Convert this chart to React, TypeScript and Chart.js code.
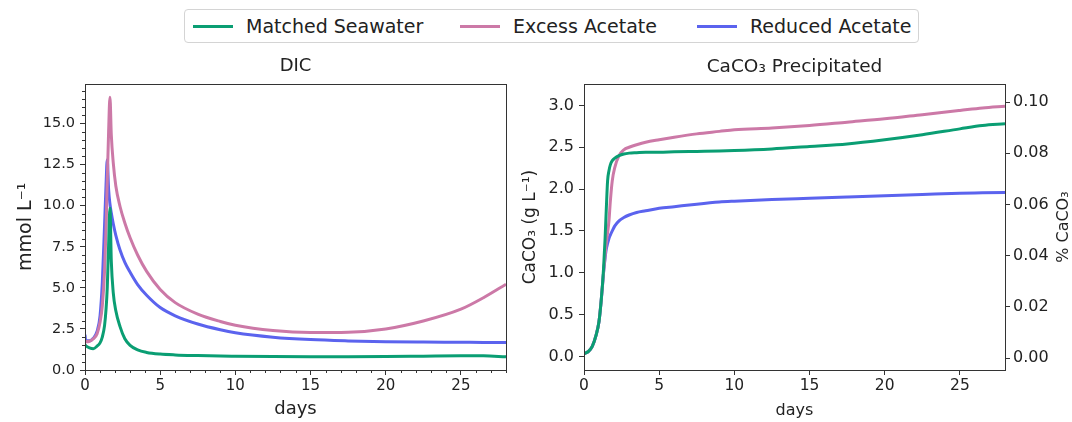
import React, { useEffect, useRef } from 'react';
import { Chart, registerables } from 'chart.js';

Chart.register(...registerables);

const FONT = "'DejaVu Sans', sans-serif";
const INK = '#222';

// time axis shared by every series (days)
const days = [0, 0.05, 0.3, 0.55, 0.8, 1.0, 1.15, 1.3, 1.4, 1.48, 1.57, 1.66, 1.75, 1.88, 2.05, 2.33, 2.65, 3.0, 3.5, 4.1, 5, 6, 7.5, 9, 10, 12.5, 15, 17.5, 20, 22.5, 25, 26.5, 28];

// DIC, mmol/L
const dicMatched = [1.55, 1.48, 1.35, 1.3, 1.45, 1.65, 2.0, 2.7, 3.7, 5.0, 7.6, 9.85, 6.6, 4.7, 3.6, 2.64, 1.9, 1.5, 1.22, 1.07, 0.97, 0.92, 0.88, 0.85, 0.84, 0.82, 0.81, 0.81, 0.82, 0.84, 0.86, 0.86, 0.8];
const dicExcess = [1.8, 1.72, 1.75, 1.9, 2.2, 2.9, 3.9, 6.0, 8.6, 11.5, 14.5, 16.6, 14.3, 12.6, 11.2, 9.95, 8.95, 8.05, 7.0, 6.0, 4.9, 4.1, 3.4, 2.95, 2.72, 2.4, 2.28, 2.3, 2.5, 2.98, 3.7, 4.4, 5.22];
const dicReduced = [2.15, 1.78, 1.78, 1.93, 2.35, 3.3, 5.3, 8.8, 11.3, 12.8, 11.0, 10.1, 9.55, 8.9, 8.2, 7.3, 6.55, 5.95, 5.2, 4.55, 3.8, 3.3, 2.8, 2.45, 2.27, 2.0, 1.85, 1.77, 1.72, 1.7, 1.69, 1.68, 1.68];

// CaCO3 precipitated, g/L
const caMatched = [0.03, 0.035, 0.06, 0.12, 0.25, 0.42, 0.68, 1.05, 1.4, 1.75, 2.1, 2.22, 2.29, 2.34, 2.37, 2.4, 2.42, 2.43, 2.435, 2.44, 2.44, 2.445, 2.45, 2.455, 2.46, 2.48, 2.51, 2.54, 2.59, 2.65, 2.72, 2.76, 2.78];
const caExcess = [0.03, 0.035, 0.06, 0.12, 0.25, 0.42, 0.68, 1.0, 1.2, 1.35, 1.48, 1.62, 1.85, 2.1, 2.26, 2.4, 2.47, 2.5, 2.53, 2.56, 2.59, 2.62, 2.66, 2.69, 2.71, 2.73, 2.76, 2.8, 2.84, 2.89, 2.94, 2.97, 2.99];
const caReduced = [0.03, 0.035, 0.06, 0.12, 0.25, 0.42, 0.68, 1.0, 1.17, 1.28, 1.35, 1.41, 1.45, 1.5, 1.56, 1.62, 1.66, 1.69, 1.72, 1.74, 1.77, 1.79, 1.82, 1.845, 1.855, 1.875, 1.89, 1.905, 1.92, 1.935, 1.95, 1.955, 1.96];

const seriesNames = ['Matched Seawater', 'Excess Acetate', 'Reduced Acetate'];
const seriesColors = ['#0a9e73', '#cc79a7', '#5b63ee'];

const toPoints = (vals: number[]) => days.map((d, i) => ({ x: d, y: vals[i] }));

const makeDatasets = (rows: number[][]) =>
  rows.map((vals, i) => ({
    label: seriesNames[i],
    data: toPoints(vals),
    borderColor: seriesColors[i],
    backgroundColor: seriesColors[i],
    borderWidth: 3,
    pointRadius: 0,
    cubicInterpolationMode: 'monotone' as const,
    yAxisID: 'y',
  }));

// box around the plot like matplotlib spines
const framePlugin = {
  id: 'frame',
  afterDraw(chart: any) {
    const { ctx, chartArea: a } = chart;
    ctx.save();
    ctx.strokeStyle = '#333';
    ctx.lineWidth = 1;
    ctx.strokeRect(Math.round(a.left) + 0.5, Math.round(a.top) + 0.5, Math.round(a.right - a.left), Math.round(a.bottom - a.top));
    ctx.restore();
  },
};

const minorTicksPlugin = {
  id: 'minorTicks',
  afterDraw(chart: any, _args: any, opts: any) {
    if (!opts || !opts.on) return;
    const { ctx, chartArea: a, scales } = chart;
    ctx.save();
    ctx.strokeStyle = '#333';
    ctx.lineWidth = 1;
    ctx.beginPath();
    const ys = scales.y;
    for (let v = 0; v <= ys.max + 1e-9; v += opts.y) {
      if (Math.abs(v / opts.yMajor - Math.round(v / opts.yMajor)) < 1e-6) continue;
      const py = Math.round(ys.getPixelForValue(v)) + 0.5;
      ctx.moveTo(a.left, py);
      ctx.lineTo(a.left - 3, py);
    }
    const xs = scales.x;
    for (let v = 0; v <= xs.max + 1e-9; v += opts.x) {
      if (Math.abs(v / opts.xMajor - Math.round(v / opts.xMajor)) < 1e-6) continue;
      const px = Math.round(xs.getPixelForValue(v)) + 0.5;
      ctx.moveTo(px, a.bottom);
      ctx.lineTo(px, a.bottom + 3);
    }
    ctx.stroke();
    ctx.restore();
  },
};

// right-hand axis title, reading bottom to top
const rightTitlePlugin = {
  id: 'rightTitle',
  afterDraw(chart: any, _args: any, opts: any) {
    if (!opts || !opts.text) return;
    const { ctx, chartArea: a } = chart;
    ctx.save();
    ctx.font = `${opts.size}px ${FONT}`;
    ctx.fillStyle = INK;
    ctx.textAlign = 'center';
    ctx.textBaseline = 'middle';
    ctx.translate(chart.width - opts.offset, (a.top + a.bottom) / 2);
    ctx.rotate(-Math.PI / 2);
    ctx.fillText(opts.text, 0, 0);
    ctx.restore();
  },
};

const xAxis = (titleSize: number, tickSize: number) => ({
  type: 'linear' as const,
  min: 0,
  max: 28,
  border: { display: false },
  grid: { drawOnChartArea: false, tickLength: 5, color: '#333' },
  ticks: {
    stepSize: 5,
    includeBounds: false,
    padding: 2,
    color: INK,
    font: { family: FONT, size: tickSize },
    maxRotation: 0,
    callback: (v: any) => String(v),
  },
  title: { display: true, text: 'days', color: INK, font: { family: FONT, size: titleSize }, padding: { top: 0, bottom: 2 } },
  afterFit: (s: any) => {
    s.height = 52;
  },
});

const DicChart: React.FC = () => {
  const ref = useRef<HTMLCanvasElement>(null);
  useEffect(() => {
    if (!ref.current) return;
    const chart = new Chart(ref.current, {
      type: 'line',
      data: { datasets: makeDatasets([dicMatched, dicExcess, dicReduced]) as any },
      plugins: [framePlugin, minorTicksPlugin],
      options: {
        animation: false,
        responsive: true,
        maintainAspectRatio: false,
        events: [],
        layout: { padding: { right: 9 } },
        scales: {
          x: xAxis(18, 15) as any,
          y: {
            type: 'linear',
            min: 0,
            max: 17.43,
            border: { display: false },
            grid: { drawOnChartArea: false, tickLength: 5, color: '#333' },
            ticks: {
              stepSize: 2.5,
              includeBounds: false,
              padding: 5,
              color: INK,
              font: { family: FONT, size: 14.5 },
              callback: (v: any) => Number(v).toFixed(1),
            },
            title: { display: true, text: 'mmol L⁻¹', color: INK, font: { family: FONT, size: 19 }, padding: { top: 15, bottom: 0 } },
            afterFit: (s: any) => {
              s.width = 85;
            },
          },
        },
        plugins: {
          legend: { display: false },
          tooltip: { enabled: false },
          title: {
            display: true,
            text: 'DIC',
            fullSize: false,
            color: INK,
            font: { family: FONT, size: 18, weight: 'normal' },
            padding: { top: 6, bottom: 6 },
          },
          minorTicks: { on: true, x: 1, xMajor: 5, y: 0.5, yMajor: 2.5 },
        } as any,
      },
    });
    return () => chart.destroy();
  }, []);
  return (
    <div style={{ position: 'absolute', left: 0, top: 50, width: 515, height: 372 }}>
      <canvas ref={ref} />
    </div>
  );
};

const CaChart: React.FC = () => {
  const ref = useRef<HTMLCanvasElement>(null);
  useEffect(() => {
    if (!ref.current) return;
    const chart = new Chart(ref.current, {
      type: 'line',
      data: { datasets: makeDatasets([caMatched, caExcess, caReduced]) as any },
      plugins: [framePlugin, rightTitlePlugin],
      options: {
        animation: false,
        responsive: true,
        maintainAspectRatio: false,
        events: [],
        scales: {
          x: xAxis(16, 15.5) as any,
          y: {
            type: 'linear',
            position: 'left',
            min: -0.163,
            max: 3.254,
            border: { display: false },
            grid: { drawOnChartArea: false, tickLength: 5, color: '#333' },
            ticks: {
              stepSize: 0.5,
              includeBounds: false,
              padding: 5,
              color: INK,
              font: { family: FONT, size: 16 },
              callback: (v: any) => Number(v).toFixed(1),
            },
            title: { display: true, text: 'CaCO₃ (g L⁻¹)', color: INK, font: { family: FONT, size: 17 }, padding: { top: 5, bottom: 0 } },
            afterFit: (s: any) => {
              s.width = 69;
            },
          },
          y2: {
            type: 'linear',
            position: 'right',
            min: -0.00468,
            max: 0.107,
            border: { display: false },
            grid: { drawOnChartArea: false, tickLength: 5, color: '#333' },
            ticks: {
              stepSize: 0.02,
              includeBounds: false,
              padding: 3,
              color: INK,
              font: { family: FONT, size: 16 },
              callback: (v: any) => Number(v).toFixed(2),
            },
            afterFit: (s: any) => {
              s.width = 67;
            },
          },
        },
        plugins: {
          legend: { display: false },
          tooltip: { enabled: false },
          title: {
            display: true,
            text: 'CaCO₃ Precipitated',
            fullSize: false,
            color: INK,
            font: { family: FONT, size: 18.5, weight: 'normal' },
            padding: { top: 6, bottom: 6 },
          },
          rightTitle: { text: '% CaCO₃', size: 16, offset: 8 },
        } as any,
      },
    });
    return () => chart.destroy();
  }, []);
  return (
    <div style={{ position: 'absolute', left: 515, top: 50, width: 557, height: 372 }}>
      <canvas ref={ref} />
    </div>
  );
};

const legendLeft = [8, 275, 512];

const Legend: React.FC = () => (
  <div
    style={{
      position: 'absolute',
      left: 184,
      top: 9,
      width: 735,
      height: 34,
      boxSizing: 'border-box',
      border: '1px solid #d4d4d4',
      borderRadius: 4,
      fontFamily: FONT,
      fontSize: 19,
      color: INK,
    }}
  >
    {seriesNames.map((name, i) => (
      <div
        key={name}
        style={{ position: 'absolute', left: legendLeft[i], top: 0, height: 32, display: 'flex', alignItems: 'center', whiteSpace: 'nowrap' }}
      >
        <span style={{ display: 'inline-block', width: 40, height: 3, background: seriesColors[i], marginRight: 13 }} />
        <span>{name}</span>
      </div>
    ))}
  </div>
);

export default function App() {
  return (
    <div style={{ position: 'fixed', left: 0, top: 0, width: 1072, height: 422, background: '#fff', overflow: 'hidden' }}>
      <Legend />
      <DicChart />
      <CaChart />
    </div>
  );
}
